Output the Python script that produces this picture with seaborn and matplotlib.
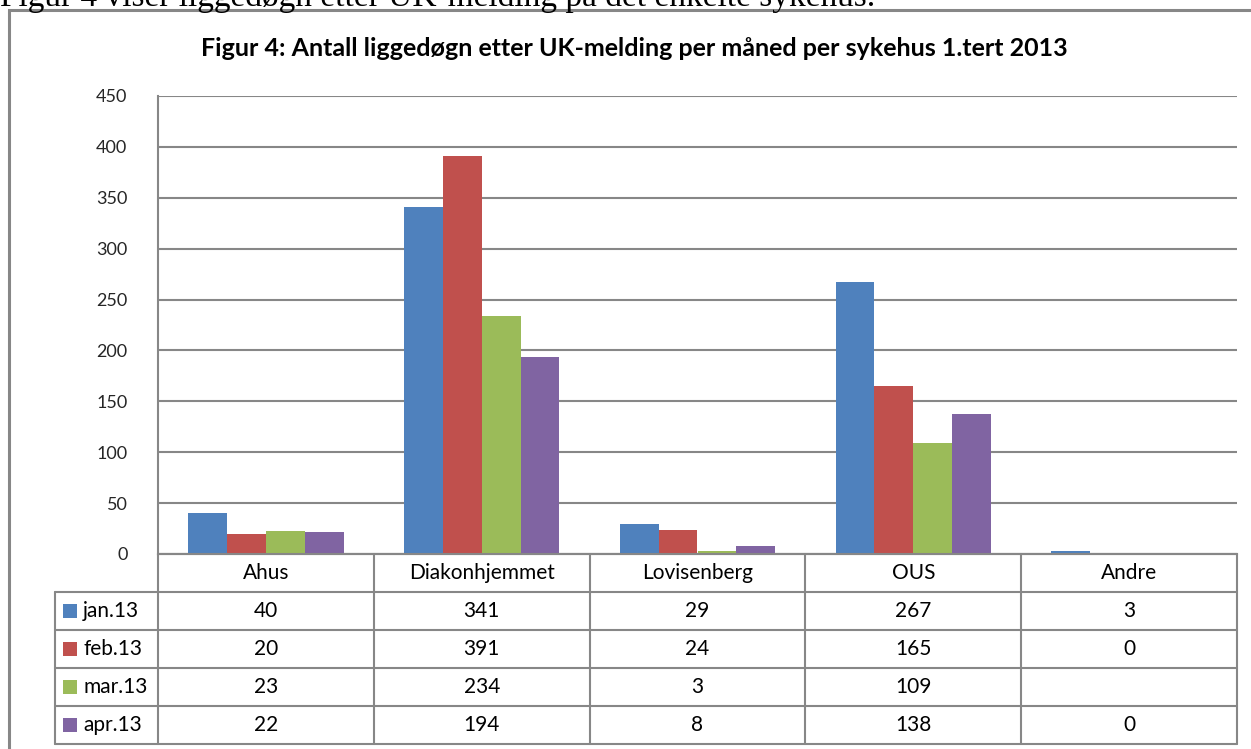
import numpy as np
import pandas as pd
import matplotlib
matplotlib.use("Agg")
import matplotlib.pyplot as plt
from matplotlib.patches import Rectangle
import seaborn as sns

categories = ["Ahus", "Diakonhjemmet", "Lovisenberg", "OUS", "Andre"]
months = ["jan.13", "feb.13", "mar.13", "apr.13"]
jan13 = [40, 341, 29, 267, 3]
feb13 = [20, 391, 24, 165, 0]
mar13 = [23, 234, 3, 109, None]
apr13 = [22, 194, 8, 138, 0]
yticks = [0, 50, 100, 150, 200, 250, 300, 350, 400, 450]
colors = ["#4F81BD", "#C0504D", "#9BBB59", "#8064A2"]
title = "Figur 4: Antall liggedøgn etter UK-melding per måned per sykehus 1.tert 2013"
intro = "Figur 4 viser liggedøgn etter UK-melding på det enkelte sykehus."

series = [jan13, feb13, mar13, apr13]
rows = []
for m, vals in zip(months, series):
    for c, v in zip(categories, vals):
        rows.append({"Sykehus": c, "Måned": m, "Verdi": np.nan if v is None else v})
df = pd.DataFrame(rows)

sns.set_theme(style="white")
plt.rcParams["font.family"] = ["Lato", "DejaVu Sans"]

W, H = 1251, 749
fig = plt.figure(figsize=(W / 100, H / 100), dpi=100)
GRAY = "#878787"

def fx(px):
    return px / W

def fy(py):
    return 1 - py / H

# outer frame of the chart object
fig.patches.append(Rectangle((fx(9), fy(760)), fx(1300), (760 - 10) / H,
                             transform=fig.transFigure, fill=False,
                             edgecolor=GRAY, linewidth=2.2, zorder=0))

# page text (clipped at the top, as in the source page)
fig.text(fx(0), fy(6), intro, family="Liberation Serif", fontsize=24,
         ha="left", va="baseline", color="black")

# title
fig.text(fx(634), fy(48), title, fontsize=18, fontweight="bold",
         ha="center", va="center", color="black")

left, right, top, bottom = 158, 1237, 96, 554
ax = fig.add_axes([fx(left), fy(bottom), fx(right - left), (bottom - top) / H])
sns.barplot(data=df, x="Sykehus", y="Verdi", hue="Måned", order=categories,
            hue_order=months, palette=colors, width=0.72, gap=0,
            saturation=1, ax=ax, legend=False, edgecolor="none", zorder=3)
ax.set_xlim(-0.5, len(categories) - 0.5)
ax.set_ylim(0, 450)
ax.set_yticks(yticks)
ax.set_yticklabels([str(t) for t in yticks], fontsize=13)
ax.tick_params(axis="y", length=0, pad=22)
ax.set_xticks([])
ax.set_xlabel("")
ax.set_ylabel("")
ax.yaxis.grid(True, color=GRAY, linewidth=1.5, zorder=0)
ax.set_axisbelow(True)
for s in ["top", "right"]:
    ax.spines[s].set_visible(False)
for s in ["left", "bottom"]:
    ax.spines[s].set_color(GRAY)
    ax.spines[s].set_linewidth(1.5)
ax.patch.set_alpha(0)

# data table below
tl, tt, tb = 55, 554, 744
xl = -0.5 - (left - tl) / ((right - left) / len(categories))
tax = fig.add_axes([fx(tl), fy(tb), fx(right - tl), (tb - tt) / H])
tax.set_xlim(xl, len(categories) - 0.5)
tax.set_ylim(len(months) + 1, 0)
tax.axis("off")
lw = 1.5
nrow = len(months) + 1
tax.plot([-0.5, len(categories) - 0.5], [0, 0], color=GRAY, lw=lw, clip_on=False)
for r in range(1, nrow + 1):
    tax.plot([xl, len(categories) - 0.5], [r, r], color=GRAY, lw=lw, clip_on=False)
tax.plot([xl, xl], [1, nrow], color=GRAY, lw=lw, clip_on=False)
for i in range(len(categories) + 1):
    tax.plot([i - 0.5, i - 0.5], [0, nrow], color=GRAY, lw=lw, clip_on=False)

fs = 15
for i, c in enumerate(categories):
    tax.text(i, 0.5, c, ha="center", va="center", fontsize=fs, color="black")
for r, (m, vals, col) in enumerate(zip(months, series, colors), start=1):
    tax.add_patch(Rectangle((xl + 0.037, r + 0.32), 0.065, 0.36,
                            facecolor=col, edgecolor="none"))
    tax.text(xl + 0.13, r + 0.5, m, ha="left", va="center", fontsize=fs,
             color="black")
    for i, v in enumerate(vals):
        if v is not None:
            tax.text(i, r + 0.5, str(v), ha="center", va="center",
                     fontsize=fs, color="black")

fig.savefig("out.png", dpi=100, facecolor="white")
